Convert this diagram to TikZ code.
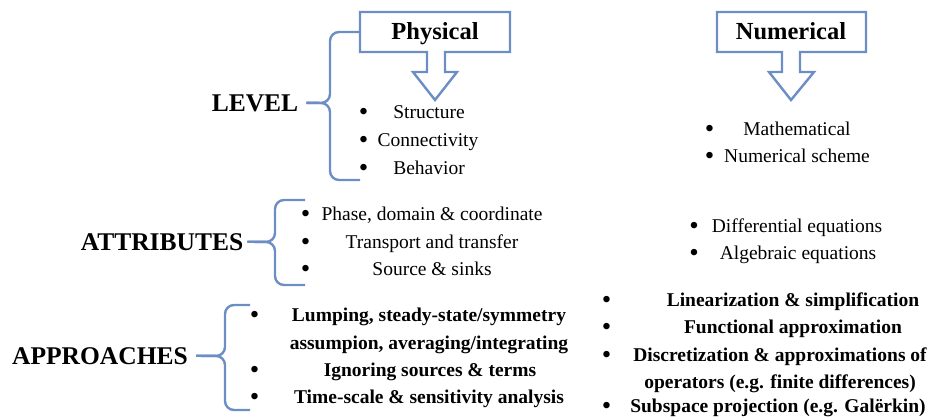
\documentclass[tikz,border=0pt]{standalone}
\usepackage{fontspec}
\setmainfont{Liberation Serif}
\definecolor{bl}{RGB}{108,142,196}
\begin{document}
\begin{tikzpicture}[x=1pt,y=-1pt,
  outline/.style={draw=bl,line width=2.4pt,line join=miter},
  brace/.style={draw=bl,line width=2.4pt,rounded corners=9pt},
  head/.style={font=\fontsize{25.5}{30}\selectfont\bfseries,anchor=base,inner sep=0pt},
  boxtxt/.style={font=\fontsize{24.5}{30}\selectfont\bfseries,anchor=base,inner sep=0pt},
  item/.style={font=\fontsize{19.5}{27}\selectfont,anchor=base,inner sep=0pt},
  bitem/.style={font=\fontsize{19.5}{27}\selectfont\bfseries,anchor=base,inner sep=0pt},
  bul/.style={font=\fontsize{27}{27}\selectfont,anchor=base,inner sep=0pt,text depth=0pt,text height=12pt,yshift=-2pt,xshift=1.5pt}]
\useasboundingbox (0,0) rectangle (943,418);

% callout boxes
\draw[outline] (360,12) -- (510,12) -- (510,52) -- (445,52) -- (445,72) -- (457,72) -- (435,100) -- (413,72) -- (427,72) -- (427,52) -- (360,52) -- cycle;
\draw[outline] (717,12) -- (866,12) -- (866,52) -- (800,52) -- (800,72) -- (814,72) -- (791,100) -- (769,72) -- (782,72) -- (782,52) -- (717,52) -- cycle;
\node[boxtxt] (phys) at (435,39) {Physical};
\node[boxtxt] (num) at (791,39) {Numerical};
\coordinate (physW) at (360,32);

% headings
\node[head] (level) at (255,111) {LEVEL};
\node[head] (attr) at (162,250) {ATTRIBUTES};
\node[head] (appr) at (100,364) {APPROACHES};

% braces
\draw[brace,shorten >=8pt] (physW) -- (330,32) -- (330,103) -- (level.east);
\draw[brace,shorten >=8pt] (360,180) -- (330,180) -- (330,103) -- (level.east);
\draw[brace,shorten >=4pt] (305,200) -- (275,200) -- (275,242) -- (attr.east);
\draw[brace,shorten >=4pt] (305,285) -- (275,285) -- (275,242) -- (attr.east);
\draw[brace,shorten >=8pt] (250,305) -- (225,305) -- (225,356) -- (appr.east);
\draw[brace,shorten >=8pt] (250,410) -- (225,410) -- (225,356) -- (appr.east);

% level - physical
\node[bul] (b1) at (362,118.5) {•};
\node[item] (l1) at (429,118.5) {Structure};
\node[bul] (b2) at (362,146.5) {•};
\node[item] (l2) at (428,146.5) {Connectivity};
\node[bul] (b3) at (362,174.5) {•};
\node[item] (l3) at (429,174.5) {Behavior};

% level - numerical
\node[bul] (b4) at (708,135.5) {•};
\node[item] (l4) at (797,135.5) {Mathematical};
\node[bul] (b5) at (708,162.5) {•};
\node[item] (l5) at (797,162.5) {Numerical scheme};

% attributes - physical
\node[bul] (b6) at (304,220.5) {•};
\node[item] (a1) at (432,220.5) {Phase, domain \& coordinate};
\node[bul] (b7) at (304,248.5) {•};
\node[item] (a2) at (432,248.5) {Transport and transfer};
\node[bul] (b8) at (304,275.5) {•};
\node[item] (a3) at (432,275.5) {Source \& sinks};

% attributes - numerical
\node[bul] (b9) at (692.5,232.5) {•};
\node[item] (a4) at (797,232.5) {Differential equations};
\node[bul] (b10) at (692.5,259.5) {•};
\node[item] (a5) at (798,259.5) {Algebraic equations};

% approaches - physical
\node[bul] (b11) at (253,321.5) {•};
\node[bitem] (p1) at (429,321.5) {Lumping, steady-state/symmetry};
\node[bitem] (p1b) at (429,349) {assumpion, averaging/integrating};
\node[bul] (b12) at (253,376.5) {•};
\node[bitem] (p2) at (430,376.5) {Ignoring sources \& terms};
\node[bul] (b13) at (253,403.5) {•};
\node[bitem] (p3) at (429,403.5) {Time-scale \& sensitivity analysis};

% approaches - numerical
\node[bul] (b14) at (605,306.5) {•};
\node[bitem] (n1) at (793,306.5) {Linearization \& simplification};
\node[bul] (b15) at (605,333.5) {•};
\node[bitem] (n2) at (793,333.5) {Functional approximation};
\node[bul] (b16) at (605,361) {•};
\node[bitem] (n3) at (780,361) {Discretization \& approximations of};
\node[bitem] (n3b) at (780,388) {operators (e.g. finite differences)};
\node[bul] (b17) at (605,412.5) {•};
\node[bitem] (n4) at (778,412.5) {Subspace projection (e.g. Galërkin)};
\end{tikzpicture}
\end{document}
